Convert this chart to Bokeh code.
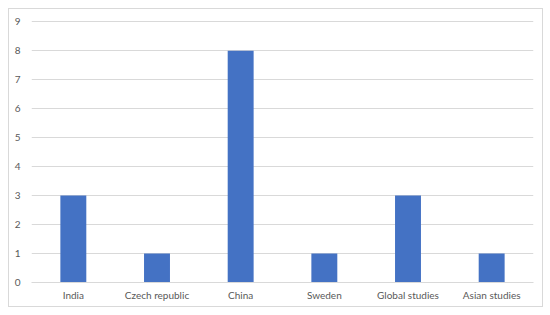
from bokeh.plotting import figure
from bokeh.models import ColumnDataSource, FactorRange, Range1d, FixedTicker
from bokeh.embed import file_html
from bokeh.resources import INLINE

categories = ["India", "Czech republic", "China", "Sweden", "Global studies", "Asian studies"]
values = [3, 1, 8, 1, 3, 1]
y_ticks = [0, 1, 2, 3, 4, 5, 6, 7, 8, 9]

source = ColumnDataSource(dict(cat=categories, val=values))

p = figure(
    x_range=FactorRange(*categories, range_padding=0),
    y_range=Range1d(0, 9.04),
    width=535, height=299,
    output_backend="svg", toolbar_location=None,
    min_border_left=22, min_border_right=11, min_border_top=11, min_border_bottom=26,
)
p.vbar(x="cat", top="val", width=0.31, source=source, color="#4472C4", line_color=None)

p.outline_line_color = None
p.xgrid.grid_line_color = None
p.ygrid.grid_line_color = "#d9d9d9"
p.ygrid.grid_line_width = 1
p.yaxis.ticker = FixedTicker(ticks=y_ticks)

for ax in (p.xaxis, p.yaxis):
    ax.major_tick_line_color = None
    ax.minor_tick_line_color = None
    ax.major_label_text_font = "Lato"
    ax.major_label_text_font_size = "10px"
    ax.major_label_text_color = "#595959"
p.yaxis.axis_line_color = None
p.yaxis.major_label_standoff = 5
p.xaxis.axis_line_color = "#d9d9d9"
p.xaxis.major_label_standoff = 0

p.styles = {"border": "1px solid #d9d9d9", "margin-left": "8px", "margin-top": "8px"}

open("out.html", "w").write(file_html(p, INLINE))
